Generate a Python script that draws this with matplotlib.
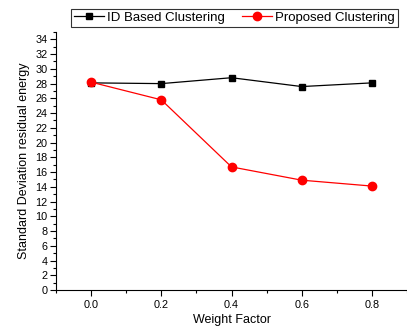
import matplotlib.pyplot as plt
from matplotlib.ticker import MultipleLocator

plt.rcParams['font.family'] = ['Liberation Sans', 'DejaVu Sans']

# data
weight = [0.0, 0.2, 0.4, 0.6, 0.8]
id_based = [28.1, 28.0, 28.8, 27.6, 28.1]
proposed = [28.2, 25.8, 16.7, 14.9, 14.1]

fig = plt.figure(figsize=(4.07, 3.29), dpi=100)
ax = fig.add_axes([0.1376, 0.1185, 0.8624, 0.7842])

ax.plot(weight, id_based, 'k-s', markersize=5, linewidth=0.9, label="ID Based Clustering")
ax.plot(weight, proposed, '-o', color='red', markersize=6, linewidth=0.9, label="Proposed Clustering")

ax.set_xlim(-0.1, 0.9)
ax.set_ylim(0, 35)
ax.xaxis.set_major_locator(MultipleLocator(0.2))
ax.xaxis.set_minor_locator(MultipleLocator(0.1))
ax.yaxis.set_major_locator(MultipleLocator(2))
ax.yaxis.set_minor_locator(MultipleLocator(1))
ax.set_xticks([0.0, 0.2, 0.4, 0.6, 0.8])
ax.set_xticklabels(["0.0", "0.2", "0.4", "0.6", "0.8"])

ax.spines['top'].set_visible(False)
ax.spines['right'].set_visible(False)
ax.tick_params(which='both', direction='out', labelsize=7.8, width=0.8)
ax.tick_params(which='major', length=4)
ax.tick_params(which='minor', length=2.5)
ax.tick_params(axis='x', pad=3)
ax.tick_params(axis='y', pad=2)

ax.set_xlabel("Weight Factor", fontsize=9, labelpad=3)
ax.set_ylabel("Standard Deviation residual energy", fontsize=9, labelpad=4)

leg = fig.legend(loc='upper left', bbox_to_anchor=(71/407, 1 - 9/329), ncol=2,
                 fontsize=9.5, frameon=True, fancybox=False, edgecolor='black',
                 borderpad=0.2, borderaxespad=0, handlelength=2.3,
                 columnspacing=1.25, handletextpad=0.25)
leg.get_frame().set_linewidth(0.8)

fig.savefig("out.png", dpi=100)
